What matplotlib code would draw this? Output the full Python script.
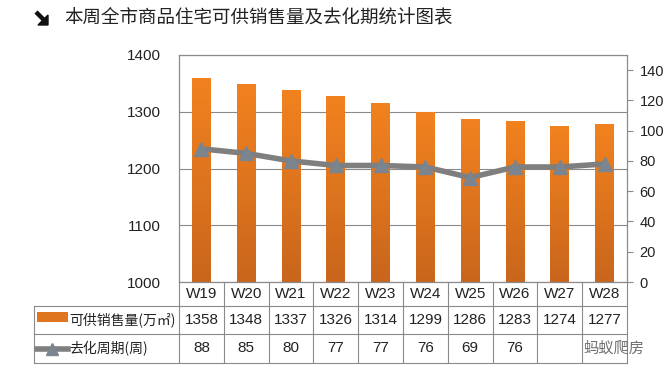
import matplotlib
matplotlib.use("Agg")
import matplotlib.pyplot as plt
from matplotlib.colors import LinearSegmentedColormap
from matplotlib.patches import Rectangle, Polygon
from matplotlib.lines import Line2D
import matplotlib.transforms as mtransforms
import numpy as np

plt.rcParams['font.family'] = ['Liberation Sans', 'Noto Sans CJK SC', 'DejaVu Sans']

# data
weeks = ['W19', 'W20', 'W21', 'W22', 'W23', 'W24', 'W25', 'W26', 'W27', 'W28']
supply = [1358, 1348, 1337, 1326, 1314, 1299, 1286, 1283, 1274, 1277]
cycle = [88, 85, 80, 77, 77, 76, 69, 76, 76, 78]
supply_label = '可供销售量(万㎡)'
cycle_label = '去化周期(周)'
title = '本周全市商品住宅可供销售量及去化期统计图表'

W, H = 666, 376
fig = plt.figure(figsize=(W / 100, H / 100), dpi=100)
fig.patch.set_facecolor('white')

def fx(px):
    return px / W

def fy(py):
    return 1 - py / H

left, right, top, bottom = 179, 627, 55, 282
ax = fig.add_axes([fx(left), fy(bottom), fx(right - left), (bottom - top) / H])
ax2 = ax.twinx()

x = np.arange(len(weeks))
grid_c = '#8a8a8a'
txt_c = '#222222'

# bars with a vertical gradient
cmap = LinearSegmentedColormap.from_list('bar', ['#c9661c', '#f2821f'])
grad = np.linspace(0, 1, 256).reshape(-1, 1)
bw = 0.42
bars = ax.bar(x, np.array(supply) - 1000, bottom=1000, width=bw, color='none', zorder=2)
for b in bars:
    x0 = b.get_x()
    ax.imshow(grad, extent=[x0, x0 + bw, 1000, 1000 + b.get_height()],
              origin='lower', aspect='auto', cmap=cmap, zorder=2)

ax.set_xlim(-0.5, len(weeks) - 0.5)
ax.set_ylim(1000, 1400)
ax.set_yticks([1000, 1100, 1200, 1300, 1400])
ax.set_xticks([])
ax.grid(axis='y', color=grid_c, lw=0.8, zorder=1)
ax.set_axisbelow(True)
ax.tick_params(axis='y', length=0, pad=13, labelsize=11, colors=txt_c)
for s in ax.spines.values():
    s.set_color(grid_c)
    s.set_linewidth(0.8)

# line on the right axis
ax2.plot(x, cycle, color='#7f7f7f', lw=4, marker='^', markersize=10,
         markerfacecolor='#7a8590', markeredgecolor='#7a8590', zorder=3)
ax2.set_ylim(0, 150)
ax2.set_yticks(range(0, 141, 20))
ax2.tick_params(axis='y', direction='out', length=4, width=0.8,
                pad=5, labelsize=10.5, labelcolor=txt_c, color=grid_c)
for s in ax2.spines.values():
    s.set_color(grid_c)
    s.set_linewidth(0.8)

# data table below the plot
line_kw = dict(color=grid_c, lw=0.8, transform=fig.transFigure)
rows = [282, 306, 334, 363]
tl = 34
for r in rows[1:]:
    fig.add_artist(Line2D([fx(tl), fx(right)], [fy(r), fy(r)], **line_kw))
fig.add_artist(Line2D([fx(tl), fx(tl)], [fy(rows[1]), fy(rows[3])], **line_kw))
for i in range(len(weeks) + 1):
    cx = left + (right - left) * i / len(weeks)
    fig.add_artist(Line2D([fx(cx), fx(cx)], [fy(rows[0]), fy(rows[3])], **line_kw))

trans = mtransforms.blended_transform_factory(ax.transData, fig.transFigure)
row_y = [(rows[k] + rows[k + 1]) / 2 for k in range(3)]
for i, w in enumerate(weeks):
    ax.text(x[i], fy(row_y[0]), w, transform=trans, ha='center', va='center',
            fontsize=11, color=txt_c, clip_on=False)
    ax.text(x[i], fy(row_y[1]), str(supply[i]), transform=trans, ha='center',
            va='center', fontsize=11, color=txt_c, clip_on=False)
    if i < 8:  # last two cells are covered by the watermark
        ax.text(x[i], fy(row_y[2]), str(cycle[i]), transform=trans, ha='center',
                va='center', fontsize=11, color=txt_c, clip_on=False)

# legend keys inside the table
fig.add_artist(Rectangle((fx(37), fy(322)), fx(31), 10 / H, transform=fig.transFigure,
                         facecolor='#e07520', edgecolor='none'))
fig.add_artist(Line2D([fx(37), fx(68)], [fy(row_y[2]), fy(row_y[2])], color='#7f7f7f',
                      lw=4, transform=fig.transFigure))
fig.add_artist(Line2D([fx(52)], [fy(row_y[2])], marker='^', markersize=8, color='#7a8590',
                      transform=fig.transFigure))
fig.text(fx(69), fy(row_y[1]), supply_label, ha='left', va='center', fontsize=10,
         color=txt_c, family=['Noto Sans CJK SC', 'DejaVu Sans'])
fig.text(fx(69), fy(row_y[2]), cycle_label, ha='left', va='center', fontsize=10,
         color=txt_c, family=['Noto Sans CJK SC', 'DejaVu Sans'])

# watermark tag over the last cells
fig.text(fx(583), fy(row_y[2]), '蚂蚁爬房', ha='left', va='center', fontsize=11,
         color='#707070')

# title with a bold south-east arrow
fig.add_artist(Line2D([fx(36), fx(44)], [fy(12), fy(20)], color='#111111', lw=3.2,
                      solid_capstyle='butt', transform=fig.transFigure))
fig.add_artist(Polygon([(fx(48), fy(25)), (fx(48), fy(15)), (fx(38), fy(25))],
                       closed=True, transform=fig.transFigure, color='#111111'))
fig.text(fx(64), fy(18), title, ha='left', va='center', fontsize=13.3, color=txt_c)

fig.savefig('out.png', dpi=100, facecolor='white')
